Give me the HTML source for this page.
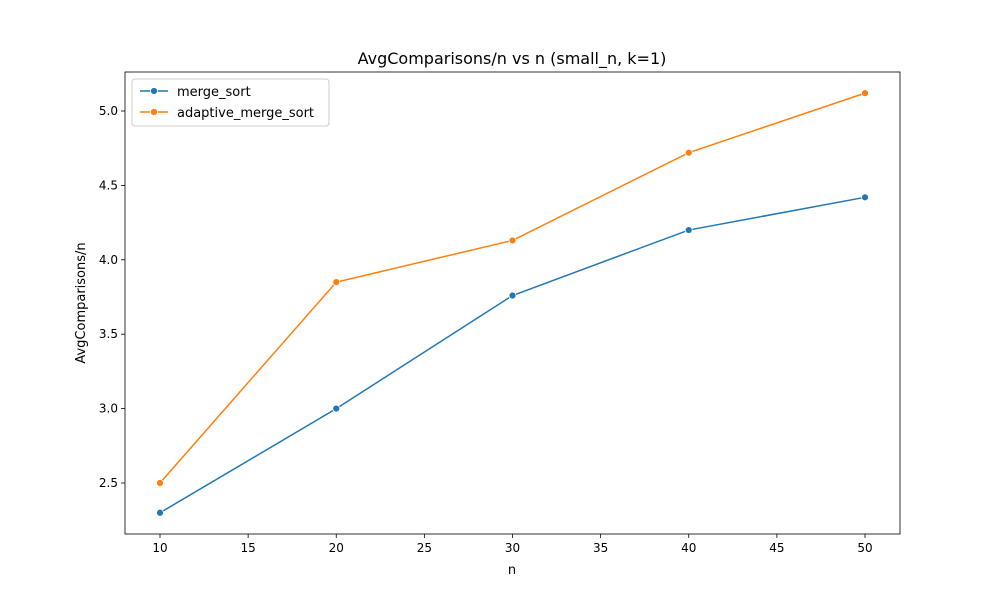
<!DOCTYPE html>
<html><head><meta charset="utf-8"><style>
body{margin:0;background:#fff;}
svg{display:block;font-family:"DejaVu Sans","Liberation Sans",sans-serif;}
</style></head><body>
<svg id="chart" width="1000" height="600" viewBox="0 0 1000 600">
<rect width="1000" height="600" fill="#fff"/>
<g id="axes"></g>
<g id="plot"></g>
<text x="512" y="64" text-anchor="middle" font-size="16">AvgComparisons/n vs n (small_n, k=1)</text>
<text x="512" y="574" text-anchor="middle" font-size="13">n</text>
<text transform="translate(85,303) rotate(-90)" text-anchor="middle" font-size="13">AvgComparisons/n</text>
<g>
<rect x="132" y="79" width="197" height="47" rx="3" fill="#fff" stroke="#ccc"/>
<g>
<line x1="140" y1="91" x2="168" y2="91" stroke="#1f77b4" stroke-width="1.5"/><circle cx="154" cy="91" r="3.5" fill="#1f77b4" stroke="#fff" stroke-width="0.8"/>
<text x="177" y="96" font-size="13">merge_sort</text></g>
<g>
<line x1="140" y1="112" x2="168" y2="112" stroke="#ff7f0e" stroke-width="1.5"/><circle cx="154" cy="112" r="3.5" fill="#ff7f0e" stroke="#fff" stroke-width="0.8"/>
<text x="177" y="117" font-size="13">adaptive_merge_sort</text></g>
</g>
</svg>
<script>
const categories=[10,20,30,40,50];
const mergeSort=[2.30,3.00,3.76,4.20,4.42];
const adaptiveMergeSort=[2.50,3.85,4.13,4.72,5.12];
const xTicks=[10,15,20,25,30,35,40,45,50];
const yTicks=[2.5,3.0,3.5,4.0,4.5,5.0];
const NS="http://www.w3.org/2000/svg";
const L=125,R=900,T=72,B=534;
const xs=v=>160+(v-10)*17.625;
const ys=v=>483-(v-2.5)*148.8;
function mk(t,a,p){const e=document.createElementNS(NS,t);for(const k in a)e.setAttribute(k,a[k]);p.appendChild(e);return e;}
const ax=document.getElementById('axes'),pl=document.getElementById('plot');
const frame=mk('rect',{x:L,y:T,width:R-L,height:B-T,fill:'none',stroke:'#000','stroke-width':0.8},ax);


xTicks.forEach(v=>{const x=xs(v);
mk('line',{x1:x,y1:B,x2:x,y2:B+4,stroke:'#000','stroke-width':0.8},ax);
const t=mk('text',{x:x,y:B+18,'text-anchor':'middle','font-size':12},ax);t.textContent=v;

});
yTicks.forEach(v=>{const y=ys(v);
mk('line',{x1:L-4,y1:y,x2:L,y2:y,stroke:'#000','stroke-width':0.8},ax);
const t=mk('text',{x:L-7,y:y+4,'text-anchor':'end','font-size':12},ax);t.textContent=v.toFixed(1);

});
function series(vals,color,name){
const g=mk('g',{},pl);


mk('polyline',{points:vals.map((v,i)=>xs(categories[i])+','+ys(v)).join(' '),fill:'none',stroke:color,'stroke-width':1.5},g);
vals.forEach((v,i)=>{const c=mk('circle',{cx:xs(categories[i]),cy:ys(v),r:3.5,fill:color,stroke:'#fff','stroke-width':0.8},g);

});
}
series(mergeSort,'#1f77b4','merge-sort-series');
series(adaptiveMergeSort,'#ff7f0e','adaptive-merge-sort-series');
</script>
</body></html>
